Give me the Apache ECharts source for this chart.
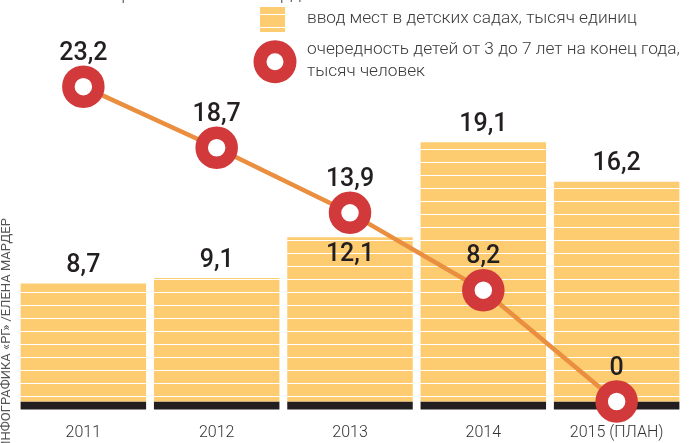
<!DOCTYPE html>
<html>
<head>
<meta charset="utf-8">
<script src="https://cdn.jsdelivr.net/npm/echarts@6/dist/echarts.min.js"></script>
<style>
  html, body { margin: 0; padding: 0; background: #fff; }
  #chart { width: 699px; height: 443px; }
</style>
</head>
<body>
<div id="chart"></div>
<script>
// данные
var years = ['2011', '2012', '2013', '2014', '2015 (ПЛАН)'];
var placesBuilt = [8.7, 9.1, 12.1, 19.1, 16.2];   // ввод мест, тыс. единиц
var queue = [23.2, 18.7, 13.9, 8.2, 0];           // очередность, тыс. человек
var baseDepth = [-0.6, -0.6, -0.6, -0.6, -0.6];   // черная подложка под столбцами

var YELLOW = '#fdcc70', RED = '#d1393a', ORANGE = '#e98f3f', INK = '#231f20';

// шкала: 0 на 401.5px, ~13.57px на единицу; белые полосы каждые 13px
var yMin = -0.6, yMax = 28;
var stripeStep = 13 / 13.57;

function fmt(v) { return String(v).replace('.', ','); }

var myChart = echarts.init(document.getElementById('chart'));

var numLabel = {
    show: true,
    fontFamily: 'Roboto',
    fontSize: 25,
    fontWeight: 500,
    color: INK,
    lineHeight: 25,
    formatter: function (p) { return fmt(p.value); }
};

var option = {
    animation: false,
    grid: { left: 16.7, right: 15.7, top: 21.5, bottom: 33.4 },
    xAxis: {
        type: 'category',
        data: years,
        axisLine: { show: false },
        axisTick: { show: false },
        axisLabel: {
            fontFamily: 'Roboto',
            fontSize: 16,
            fontWeight: 300,
            color: '#333333',
            margin: 15
        }
    },
    yAxis: {
        type: 'value',
        min: yMin,
        max: yMax,
        interval: stripeStep,
        z: 3,
        axisLine: { show: false },
        axisTick: { show: false },
        axisLabel: { show: false },
        // белые линии поверх столбцов дают полосатую заливку
        splitLine: { show: true, showMinLine: false, lineStyle: { color: '#ffffff', width: 1 } }
    },
    series: [
        {
            type: 'bar',
            data: baseDepth,
            barWidth: 125.5,
            barGap: '-100%',
            silent: true,
            itemStyle: { color: INK }
        },
        {
            type: 'bar',
            data: placesBuilt,
            barWidth: 125.5,
            barGap: '-100%',
            itemStyle: { color: YELLOW }
        },
        {
            // подписи столбцов поверх полос
            type: 'bar',
            data: placesBuilt.map(function (v, i) {
                return i === 2 ? { value: v, label: { position: 'insideTop', distance: 5 } } : v;
            }),
            barWidth: 125.5,
            z: 4,
            silent: true,
            itemStyle: { color: 'rgba(0,0,0,0)' },
            label: Object.assign({ position: 'top', distance: 5 }, numLabel)
        },
        {
            type: 'line',
            data: queue,
            z: 5,
            symbol: 'circle',
            symbolSize: 30,
            lineStyle: { color: ORANGE, width: 4.5 },
            itemStyle: { color: '#ffffff', borderColor: RED, borderWidth: 12.5 },
            label: Object.assign({ position: 'inside', offset: [0, -33] }, numLabel)
        }
    ],
    graphic: [
        {
            type: 'text', left: 18, top: -15, z: 10,
            style: {
                text: 'Источник: правительство Свердловской области',
                font: '300 19px Roboto', fill: '#555555'
            }
        },
        { type: 'rect', z: 10, shape: { x: 260, y: 7, width: 25, height: 25 }, style: { fill: YELLOW } },
        { type: 'rect', z: 11, shape: { x: 260, y: 14, width: 25, height: 1 }, style: { fill: '#ffffff' } },
        { type: 'rect', z: 11, shape: { x: 260, y: 27, width: 25, height: 1 }, style: { fill: '#ffffff' } },
        {
            type: 'text', x: 307, y: 19, z: 10,
            style: {
                text: 'ввод мест в детских садах, тысяч единиц',
                font: '300 17.3px Roboto', fill: '#3a3a3a', verticalAlign: 'middle'
            }
        },
        {
            type: 'ring', z: 10, shape: { cx: 275, cy: 61.7, r: 21.5, r0: 8.5 },
            style: { fill: RED }
        },
        {
            type: 'text', x: 307, y: 39, z: 10,
            style: {
                text: 'очередность детей от 3 до 7 лет на конец года,\nтысяч человек',
                font: '300 17.3px Roboto', fill: '#3a3a3a', lineHeight: 22
            }
        },
        {
            type: 'text', x: 7, y: 334, z: 10, rotation: Math.PI / 2,
            style: {
                text: 'ИНФОГРАФИКА «РГ» /ЕЛЕНА МАРДЕР',
                font: '13px Roboto', fill: '#555555',
                align: 'center', verticalAlign: 'middle'
            }
        }
    ]
};
myChart.setOption(option);
</script>
</body>
</html>
